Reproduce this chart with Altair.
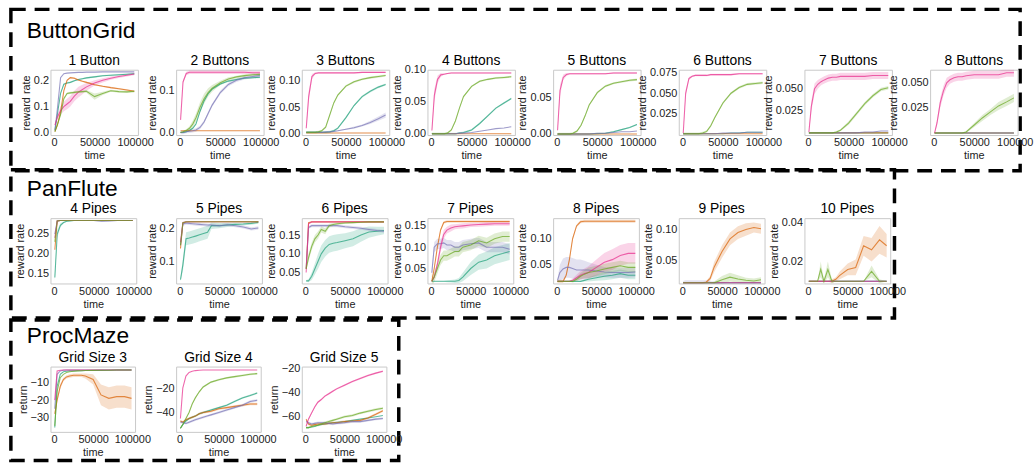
import altair as alt
import pandas as pd

FONT = "Liberation Sans"
X = [1000, 4000, 8000, 12000, 16000, 20000, 25000, 30000, 35000, 40000, 50000, 60000, 70000, 80000, 90000, 99000]
X_DOMAIN = [-4500, 103500]
X_TICKS = [0, 50000, 100000]
SERIES = ["teal", "orange", "purple", "pink", "green"]
COLORS = ["#1b9e77", "#d95f02", "#7570b3", "#e7298a", "#66a61e"]

# ---------------- ButtonGrid ----------------
B1 = {
    "teal":   [0.01, 0.07, 0.15, 0.185, 0.19, 0.192, 0.198, 0.203, 0.206, 0.209, 0.213, 0.217, 0.219, 0.221, 0.223, 0.225],
    "orange": [0.005, 0.03, 0.08, 0.16, 0.2, 0.21, 0.208, 0.201, 0.196, 0.192, 0.183, 0.177, 0.172, 0.168, 0.163, 0.158],
    "purple": [0.01, 0.09, 0.21, 0.225, 0.227, 0.228, 0.229, 0.23, 0.23, 0.231, 0.231, 0.232, 0.232, 0.232, 0.232, 0.232],
    "pink":   [0.03, 0.06, 0.085, 0.1, 0.11, 0.12, 0.14, 0.155, 0.165, 0.175, 0.19, 0.2, 0.208, 0.214, 0.219, 0.224],
    "green":  [0.005, 0.03, 0.07, 0.13, 0.15, 0.152, 0.154, 0.156, 0.157, 0.158, 0.138, 0.15, 0.16, 0.157, 0.156, 0.158],
}
B1_BAND = {
    "pink":  [0.005, 0.01, 0.015, 0.018, 0.02, 0.02, 0.02, 0.02, 0.018, 0.015, 0.01, 0.008, 0.006, 0.005, 0.005, 0.005],
    "green": [0.003, 0.003, 0.005, 0.005, 0.004, 0.004, 0.004, 0.004, 0.004, 0.005, 0.012, 0.006, 0.004, 0.004, 0.004, 0.004],
    "orange": 0.003, "teal": 0.003,
}
B2 = {
    "teal":   [0.0, 0.0, 0.002, 0.005, 0.01, 0.02, 0.05, 0.075, 0.092, 0.103, 0.115, 0.122, 0.126, 0.129, 0.13, 0.131],
    "orange": [0.004, 0.004, 0.004, 0.004, 0.004, 0.004, 0.004, 0.004, 0.004, 0.004, 0.004, 0.004, 0.004, 0.004, 0.004, 0.004],
    "purple": [0.0, 0.0, 0.002, 0.003, 0.004, 0.006, 0.012, 0.025, 0.045, 0.065, 0.095, 0.114, 0.124, 0.13, 0.133, 0.135],
    "pink":   [0.03, 0.12, 0.14, 0.143, 0.143, 0.143, 0.143, 0.143, 0.143, 0.143, 0.143, 0.143, 0.143, 0.143, 0.142, 0.142],
    "green":  [0.0, 0.002, 0.005, 0.01, 0.02, 0.035, 0.06, 0.08, 0.095, 0.105, 0.118, 0.127, 0.132, 0.135, 0.137, 0.138],
}
B2_BAND = {
    "green": [0.001, 0.002, 0.003, 0.005, 0.008, 0.01, 0.012, 0.012, 0.01, 0.008, 0.005, 0.004, 0.003, 0.003, 0.003, 0.003],
    "purple": 0.004, "pink": 0.004, "teal": 0.002,
}
B3 = {
    "teal":   [0.002, 0.002, 0.002, 0.002, 0.002, 0.002, 0.002, 0.003, 0.005, 0.01, 0.03, 0.053, 0.07, 0.08, 0.088, 0.093],
    "orange": [0.001, 0.001, 0.001, 0.001, 0.001, 0.001, 0.001, 0.001, 0.001, 0.001, 0.001, 0.001, 0.001, 0.001, 0.001, 0.001],
    "purple": [0.002, 0.002, 0.002, 0.002, 0.002, 0.002, 0.003, 0.003, 0.004, 0.005, 0.008, 0.011, 0.015, 0.021, 0.028, 0.035],
    "pink":   [0.01, 0.07, 0.108, 0.114, 0.115, 0.115, 0.115, 0.115, 0.115, 0.115, 0.115, 0.115, 0.116, 0.116, 0.116, 0.116],
    "green":  [0.002, 0.002, 0.002, 0.002, 0.003, 0.005, 0.012, 0.035, 0.058, 0.073, 0.09, 0.098, 0.103, 0.106, 0.108, 0.11],
}
B3_BAND = {
    "pink":   [0.003, 0.01, 0.005, 0.002, 0.001, 0.001, 0.001, 0.001, 0.001, 0.001, 0.001, 0.001, 0.001, 0.001, 0.001, 0.001],
    "purple": [0.0, 0.0, 0.0, 0.0, 0.0, 0.0, 0.0, 0.0, 0.001, 0.001, 0.001, 0.002, 0.002, 0.003, 0.004, 0.005],
    "green": 0.002, "teal": 0.002,
}
B4 = {
    "teal":   [0.0, 0.0, 0.0, 0.0, 0.0, 0.0, 0.0, 0.0, 0.001, 0.002, 0.006, 0.016, 0.028, 0.04, 0.048, 0.055],
    "orange": [0.0, 0.0, 0.0, 0.0, 0.0, 0.0, 0.0, 0.0, 0.0, 0.0, 0.0, 0.0, 0.0, 0.0, 0.0, 0.0],
    "purple": [0.0, 0.0, 0.0, 0.0, 0.0, 0.0, 0.0, 0.0, 0.001, 0.001, 0.002, 0.004, 0.006, 0.008, 0.009, 0.011],
    "pink":   [0.005, 0.06, 0.085, 0.092, 0.093, 0.094, 0.095, 0.095, 0.095, 0.095, 0.095, 0.095, 0.095, 0.095, 0.095, 0.095],
    "green":  [0.0, 0.0, 0.0, 0.0, 0.0, 0.001, 0.006, 0.02, 0.04, 0.058, 0.074, 0.082, 0.085, 0.087, 0.088, 0.089],
}
B4_BAND = {"pink": [0.002, 0.01, 0.006, 0.003, 0.001, 0.001, 0.001, 0.001, 0.001, 0.001, 0.001, 0.001, 0.001, 0.001, 0.001, 0.001],
           "green": 0.0015, "teal": 0.0015}
B5 = {
    "teal":   [0.0, 0.0, 0.0, 0.0, 0.0, 0.0, 0.0, 0.0, 0.0, 0.0, 0.0005, 0.001, 0.003, 0.006, 0.009, 0.013],
    "orange": [0.0, 0.0, 0.0, 0.0, 0.0, 0.0, 0.0, 0.0, 0.0, 0.0, 0.0, 0.0, 0.0, 0.0, 0.0, 0.0],
    "purple": [0.0, 0.0, 0.0, 0.0, 0.0, 0.0, 0.0, 0.0, 0.0, 0.0, 0.001, 0.001, 0.002, 0.003, 0.003, 0.004],
    "pink":   [0.005, 0.06, 0.078, 0.082, 0.083, 0.083, 0.083, 0.083, 0.083, 0.083, 0.083, 0.083, 0.084, 0.084, 0.084, 0.084],
    "green":  [0.0, 0.0, 0.0, 0.0, 0.0, 0.001, 0.004, 0.012, 0.025, 0.04, 0.057, 0.066, 0.07, 0.072, 0.074, 0.075],
}
B5_BAND = {"pink": [0.002, 0.008, 0.004, 0.002, 0.001, 0.001, 0.001, 0.001, 0.001, 0.001, 0.001, 0.001, 0.001, 0.001, 0.001, 0.001],
           "green": 0.0015, "teal": 0.001}
B6 = {
    "teal":   [0.0, 0.0, 0.0, 0.0, 0.0, 0.0, 0.0, 0.0, 0.0, 0.0, 0.0, 0.001, 0.001, 0.002, 0.002, 0.002],
    "orange": [0.0, 0.0, 0.0, 0.0, 0.0, 0.0, 0.0, 0.0, 0.0, 0.0, 0.0, 0.0, 0.0, 0.0, 0.0, 0.0],
    "purple": [0.0, 0.0, 0.0, 0.0, 0.0, 0.0, 0.0, 0.0, 0.0, 0.0, 0.001, 0.001, 0.001, 0.002, 0.002, 0.002],
    "pink":   [0.001, 0.05, 0.068, 0.071, 0.072, 0.072, 0.072, 0.072, 0.073, 0.073, 0.073, 0.073, 0.074, 0.074, 0.074, 0.074],
    "green":  [0.0, 0.0, 0.0, 0.0, 0.0, 0.0, 0.001, 0.003, 0.01, 0.02, 0.038, 0.05, 0.057, 0.061, 0.062, 0.063],
}
B6_BAND = {"pink": [0.001, 0.004, 0.002, 0.001, 0.001, 0.001, 0.001, 0.001, 0.001, 0.001, 0.001, 0.001, 0.001, 0.001, 0.001, 0.001],
           "green": 0.0015}
B7 = {
    "teal":   [0.0, 0.0, 0.0, 0.0, 0.0, 0.0, 0.0, 0.0, 0.0, 0.0, 0.0, 0.0, 0.0, 0.0, 0.0, 0.0],
    "orange": [0.0, 0.0, 0.0, 0.0, 0.0, 0.0, 0.0, 0.0, 0.0, 0.0, 0.0, 0.0, 0.0, 0.0, 0.0, 0.0],
    "purple": [0.0, 0.0, 0.0, 0.0, 0.0, 0.0, 0.0, 0.0, 0.0, 0.0, 0.0, 0.0, 0.001, 0.001, 0.002, 0.002],
    "pink":   [0.001, 0.03, 0.05, 0.055, 0.058, 0.06, 0.062, 0.063, 0.063, 0.064, 0.064, 0.064, 0.064, 0.065, 0.065, 0.065],
    "green":  [0.0, 0.0, 0.0, 0.0, 0.0, 0.0, 0.0, 0.0, 0.001, 0.003, 0.011, 0.022, 0.033, 0.042, 0.049, 0.051],
}
B7_BAND = {"pink": [0.001, 0.006, 0.006, 0.005, 0.004, 0.004, 0.004, 0.004, 0.004, 0.004, 0.004, 0.004, 0.004, 0.004, 0.004, 0.004],
           "green": [0.0, 0.0, 0.0, 0.0, 0.0, 0.0, 0.0, 0.0, 0.001, 0.001, 0.002, 0.002, 0.002, 0.002, 0.002, 0.002]}
B8 = {
    "teal":   [0.0, 0.0, 0.0, 0.0, 0.0, 0.0, 0.0, 0.0, 0.0, 0.0, 0.0, 0.0, 0.0, 0.0, 0.0, 0.0],
    "orange": [0.0, 0.0, 0.0, 0.0, 0.0, 0.0, 0.0, 0.0, 0.0, 0.0, 0.0, 0.0, 0.0, 0.0, 0.0, 0.0],
    "purple": [0.0, 0.0, 0.0, 0.0, 0.0, 0.0, 0.0, 0.0, 0.0, 0.0, 0.0, 0.0, 0.0, 0.0, 0.0, 0.0],
    "pink":   [0.0, 0.01, 0.03, 0.042, 0.05, 0.053, 0.055, 0.056, 0.056, 0.057, 0.058, 0.058, 0.058, 0.058, 0.06, 0.06],
    "green":  [0.0, 0.0, 0.0, 0.0, 0.0, 0.0, 0.0, 0.0, 0.0, 0.001, 0.008, 0.015, 0.021, 0.027, 0.031, 0.035],
}
B8_BAND = {"pink": [0.0, 0.003, 0.005, 0.005, 0.005, 0.004, 0.004, 0.004, 0.004, 0.004, 0.004, 0.004, 0.004, 0.004, 0.004, 0.004],
           "green": [0.0, 0.0, 0.0, 0.0, 0.0, 0.0, 0.0, 0.0, 0.0, 0.001, 0.002, 0.003, 0.003, 0.004, 0.004, 0.004]}

BG_TITLES = ["1 Button", "2 Buttons", "3 Buttons", "4 Buttons", "5 Buttons", "6 Buttons", "7 Buttons", "8 Buttons"]
BG_LINES = [B1, B2, B3, B4, B5, B6, B7, B8]
BG_BANDS = [B1_BAND, B2_BAND, B3_BAND, B4_BAND, B5_BAND, B6_BAND, B7_BAND, B8_BAND]
BG_DOMAINS = [[-0.008, 0.24], [-0.006, 0.149], [-0.003, 0.121], [-0.002, 0.1],
              [-0.0015, 0.0886], [-0.0015, 0.079], [-0.0025, 0.0715], [-0.002, 0.063]]
BG_TICKS = [[0.0, 0.1, 0.2], [0.0, 0.1], [0.0, 0.05, 0.1], [0.0, 0.05, 0.1],
            [0.0, 0.05], [0.025, 0.05, 0.075], [0.025, 0.05], [0.025, 0.05]]
BG_FORMATS = [".1f", ".1f", ".2f", ".2f", ".2f", ".3f", ".3f", ".3f"]

# ---------------- PanFlute ----------------
P4 = {
    "teal":   [0.14, 0.25, 0.272, 0.279, 0.282, 0.283, 0.284, 0.284, 0.284, 0.284, 0.284, 0.284, 0.284, 0.284, 0.284, 0.284],
    "orange": [0.21, 0.283, 0.284, 0.284, 0.284, 0.284, 0.284, 0.284, 0.284, 0.284, 0.284, 0.284, 0.284, 0.284, 0.284, 0.284],
    "purple": [0.25, 0.283, 0.284, 0.284, 0.284, 0.284, 0.284, 0.284, 0.284, 0.284, 0.284, 0.282, 0.283, 0.284, 0.284, 0.284],
    "pink":   [0.24, 0.283, 0.284, 0.284, 0.284, 0.284, 0.284, 0.284, 0.284, 0.284, 0.284, 0.284, 0.284, 0.284, 0.284, 0.284],
    "green":  [0.23, 0.283, 0.284, 0.284, 0.284, 0.284, 0.284, 0.284, 0.284, 0.284, 0.284, 0.284, 0.284, 0.284, 0.284, 0.284],
}
P4_BAND = {"teal": [0.01, 0.01, 0.005, 0.002, 0.001, 0.001, 0.001, 0.001, 0.001, 0.001, 0.001, 0.001, 0.001, 0.001, 0.001, 0.001],
           "purple": 0.001}
P5 = {
    "teal":   [0.045, 0.09, 0.17, 0.172, 0.175, 0.178, 0.182, 0.186, 0.19, 0.21, 0.21, 0.212, 0.214, 0.215, 0.217, 0.22],
    "orange": [0.14, 0.218, 0.221, 0.222, 0.222, 0.222, 0.222, 0.222, 0.222, 0.222, 0.222, 0.222, 0.222, 0.222, 0.222, 0.222],
    "purple": [0.15, 0.215, 0.218, 0.217, 0.216, 0.215, 0.214, 0.213, 0.212, 0.212, 0.21, 0.213, 0.21, 0.206, 0.2, 0.203],
    "pink":   [0.16, 0.22, 0.222, 0.222, 0.222, 0.222, 0.222, 0.222, 0.222, 0.222, 0.222, 0.222, 0.222, 0.222, 0.222, 0.222],
    "green":  [0.15, 0.219, 0.222, 0.222, 0.222, 0.222, 0.222, 0.222, 0.222, 0.222, 0.222, 0.222, 0.222, 0.222, 0.222, 0.222],
}
P5_BAND = {"teal": [0.005, 0.02, 0.02, 0.02, 0.02, 0.02, 0.02, 0.02, 0.02, 0.01, 0.008, 0.006, 0.005, 0.004, 0.004, 0.004],
           "purple": 0.005}
P6 = {
    "teal":   [0.028, 0.028, 0.04, 0.06, 0.08, 0.1, 0.115, 0.125, 0.128, 0.13, 0.135, 0.14, 0.15, 0.158, 0.16, 0.162],
    "orange": [0.06, 0.183, 0.185, 0.185, 0.185, 0.185, 0.185, 0.185, 0.185, 0.185, 0.185, 0.185, 0.185, 0.185, 0.185, 0.185],
    "purple": [0.06, 0.17, 0.175, 0.175, 0.175, 0.175, 0.175, 0.175, 0.175, 0.175, 0.172, 0.17, 0.168, 0.165, 0.162, 0.16],
    "pink":   [0.05, 0.18, 0.185, 0.185, 0.185, 0.185, 0.185, 0.185, 0.185, 0.185, 0.185, 0.185, 0.185, 0.185, 0.185, 0.185],
    "green":  [0.06, 0.09, 0.12, 0.14, 0.15, 0.165, 0.16, 0.175, 0.178, 0.18, 0.182, 0.183, 0.184, 0.185, 0.185, 0.185],
}
P6_BAND = {"teal": [0.002, 0.004, 0.01, 0.015, 0.02, 0.022, 0.022, 0.022, 0.022, 0.022, 0.02, 0.02, 0.018, 0.015, 0.012, 0.01],
           "green": [0.005, 0.01, 0.01, 0.01, 0.01, 0.008, 0.008, 0.005, 0.004, 0.003, 0.002, 0.002, 0.002, 0.002, 0.002, 0.002],
           "purple": 0.004}
P7 = {
    "teal":   [0.02, 0.02, 0.02, 0.02, 0.02, 0.02, 0.02, 0.02, 0.022, 0.03, 0.05, 0.065, 0.07, 0.08, 0.085, 0.09],
    "orange": [0.02, 0.05, 0.1, 0.14, 0.158, 0.16, 0.16, 0.16, 0.16, 0.16, 0.16, 0.16, 0.16, 0.16, 0.16, 0.16],
    "purple": [0.04, 0.1, 0.108, 0.108, 0.11, 0.105, 0.105, 0.1, 0.1, 0.105, 0.108, 0.11, 0.1, 0.1, 0.1, 0.095],
    "pink":   [0.02, 0.03, 0.06, 0.1, 0.13, 0.14, 0.145, 0.148, 0.149, 0.15, 0.152, 0.153, 0.154, 0.155, 0.155, 0.155],
    "green":  [0.02, 0.03, 0.05, 0.07, 0.08, 0.08, 0.085, 0.09, 0.09, 0.1, 0.105, 0.115, 0.11, 0.12, 0.125, 0.125],
}
P7_BAND = {"teal": [0.001, 0.001, 0.001, 0.001, 0.001, 0.002, 0.003, 0.004, 0.006, 0.01, 0.015, 0.018, 0.02, 0.02, 0.02, 0.02],
           "purple": 0.012,
           "pink": [0.002, 0.005, 0.01, 0.012, 0.01, 0.008, 0.008, 0.006, 0.006, 0.006, 0.005, 0.005, 0.005, 0.005, 0.005, 0.005],
           "green": 0.012, "orange": 0.003}
P8 = {
    "teal":   [0.018, 0.018, 0.018, 0.018, 0.018, 0.018, 0.018, 0.018, 0.02, 0.022, 0.025, 0.028, 0.03, 0.033, 0.03, 0.03],
    "orange": [0.018, 0.018, 0.018, 0.03, 0.06, 0.1, 0.125, 0.133, 0.134, 0.134, 0.134, 0.134, 0.134, 0.134, 0.134, 0.134],
    "purple": [0.02, 0.035, 0.042, 0.045, 0.045, 0.043, 0.04, 0.04, 0.04, 0.04, 0.038, 0.036, 0.035, 0.035, 0.035, 0.036],
    "pink":   [0.018, 0.018, 0.018, 0.018, 0.018, 0.02, 0.025, 0.03, 0.033, 0.035, 0.045, 0.055, 0.06, 0.068, 0.072, 0.072],
    "green":  [0.018, 0.018, 0.018, 0.018, 0.018, 0.018, 0.022, 0.028, 0.032, 0.035, 0.038, 0.042, 0.045, 0.048, 0.045, 0.045],
}
P8_BAND = {"teal": [0.0, 0.0, 0.0, 0.0, 0.0, 0.0, 0.0, 0.001, 0.002, 0.004, 0.006, 0.008, 0.008, 0.008, 0.008, 0.008],
           "orange": 0.003,
           "purple": [0.003, 0.015, 0.02, 0.02, 0.02, 0.02, 0.02, 0.02, 0.018, 0.015, 0.012, 0.01, 0.01, 0.01, 0.01, 0.01],
           "pink": [0.0, 0.0, 0.0, 0.0, 0.001, 0.003, 0.006, 0.008, 0.01, 0.012, 0.015, 0.018, 0.02, 0.02, 0.02, 0.02],
           "green": [0.0, 0.0, 0.0, 0.0, 0.0, 0.002, 0.004, 0.006, 0.008, 0.01, 0.01, 0.01, 0.01, 0.01, 0.01, 0.01]}
P9 = {
    "teal":   [0.015, 0.015, 0.015, 0.015, 0.015, 0.015, 0.015, 0.015, 0.015, 0.015, 0.015, 0.015, 0.015, 0.015, 0.015, 0.015],
    "orange": [0.015, 0.015, 0.015, 0.015, 0.015, 0.015, 0.015, 0.016, 0.022, 0.04, 0.065, 0.085, 0.095, 0.1, 0.103, 0.101],
    "purple": [0.015, 0.015, 0.015, 0.015, 0.015, 0.015, 0.015, 0.015, 0.015, 0.015, 0.015, 0.015, 0.015, 0.015, 0.015, 0.015],
    "pink":   [0.015, 0.015, 0.015, 0.015, 0.015, 0.015, 0.015, 0.015, 0.015, 0.015, 0.015, 0.015, 0.015, 0.015, 0.015, 0.015],
    "green":  [0.015, 0.015, 0.015, 0.015, 0.015, 0.015, 0.015, 0.015, 0.015, 0.015, 0.02, 0.024, 0.021, 0.019, 0.018, 0.02],
}
P9_BAND = {"orange": [0.0, 0.0, 0.0, 0.0, 0.0, 0.0, 0.001, 0.002, 0.004, 0.008, 0.01, 0.01, 0.01, 0.01, 0.008, 0.008],
           "purple": [0.003, 0.004, 0.004, 0.004, 0.004, 0.004, 0.004, 0.004, 0.003, 0.002, 0.001, 0.0, 0.0, 0.0, 0.0, 0.0],
           "green": [0.0, 0.0, 0.0, 0.0, 0.0, 0.0, 0.0, 0.0, 0.0, 0.002, 0.006, 0.007, 0.006, 0.004, 0.004, 0.004]}
P10 = {
    "teal":   [0.01, 0.01, 0.01, 0.01, 0.01, 0.01, 0.01, 0.01, 0.01, 0.01, 0.01, 0.01, 0.01, 0.01, 0.01, 0.01],
    "orange": [0.01, 0.01, 0.01, 0.01, 0.01, 0.01, 0.01, 0.01, 0.011, 0.013, 0.016, 0.017, 0.028, 0.026, 0.031, 0.028],
    "purple": [0.01, 0.01, 0.01, 0.01, 0.01, 0.01, 0.01, 0.01, 0.01, 0.01, 0.01, 0.01, 0.01, 0.01, 0.01, 0.01],
    "pink":   [0.01, 0.01, 0.01, 0.01, 0.01, 0.01, 0.01, 0.01, 0.01, 0.01, 0.01, 0.01, 0.01, 0.01, 0.01, 0.01],
    "green":  [0.01, 0.01, 0.01, 0.01, 0.016, 0.01, 0.016, 0.01, 0.01, 0.01, 0.01, 0.01, 0.01, 0.015, 0.01, 0.01],
}
P10_BAND = {"orange": [0.0, 0.0, 0.0, 0.0, 0.0, 0.0, 0.0, 0.001, 0.001, 0.002, 0.003, 0.004, 0.005, 0.006, 0.007, 0.006],
            "green": [0.0, 0.0, 0.0, 0.0, 0.004, 0.001, 0.004, 0.001, 0.0, 0.0, 0.0, 0.0, 0.0, 0.003, 0.001, 0.0]}

PF_TITLES = ["4 Pipes", "5 Pipes", "6 Pipes", "7 Pipes", "8 Pipes", "9 Pipes", "10 Pipes"]
PF_LINES = [P4, P5, P6, P7, P8, P9, P10]
PF_BANDS = [P4_BAND, P5_BAND, P6_BAND, P7_BAND, P8_BAND, P9_BAND, P10_BAND]
PF_DOMAINS = [[0.125, 0.29], [0.033, 0.233], [0.021, 0.195], [0.015, 0.168], [0.014, 0.14], [0.014, 0.118], [0.0089, 0.042]]
PF_TICKS = [[0.15, 0.2, 0.25], [0.1, 0.2], [0.05, 0.1, 0.15], [0.05, 0.1, 0.15], [0.05, 0.1], [0.05, 0.1], [0.02, 0.04]]
PF_FORMATS = [".2f", ".1f", ".2f", ".2f", ".2f", ".2f", ".2f"]

# ---------------- ProcMaze ----------------
G3 = {
    "teal":   [-36, -12, -5, -3.5, -3.2, -3, -3, -2.9, -2.9, -2.8, -2.8, -2.7, -2.6, -2.5, -2.5, -2.5],
    "orange": [-28, -20, -12, -8, -6.5, -6, -5.5, -5.5, -5.5, -6, -8, -17, -19, -18, -18, -19],
    "purple": [-25, -5, -3, -2.6, -2.5, -2.5, -2.5, -2.5, -2.5, -2.5, -2.5, -2.5, -2.5, -2.5, -2.5, -2.5],
    "pink":   [-20, -3, -2.6, -2.5, -2.5, -2.5, -2.5, -2.5, -2.5, -2.5, -2.5, -2.5, -2.5, -2.5, -2.5, -2.5],
    "green":  [-35, -15, -7, -5, -4, -3.5, -3.2, -3, -2.9, -2.8, -2.7, -2.6, -2.6, -2.5, -2.5, -2.5],
}
G3_BAND = {"orange": [1, 1.5, 1.5, 1, 1, 1, 1, 1, 1, 1.5, 3, 6, 6.5, 6.5, 6.5, 6.5]}
G4 = {
    "teal":   [-53, -50, -47, -45, -44, -43, -41, -40, -39, -38, -36, -34, -31, -28, -26, -24],
    "orange": [-47, -48, -46, -45, -44, -43, -41, -40, -39.5, -39, -37, -36, -35, -34, -33, -33],
    "purple": [-48, -48, -49, -48, -47, -46, -45, -44, -43, -42, -40, -38, -36, -34, -31, -30],
    "pink":   [-45, -20, -10, -7, -6, -5.5, -5.2, -5, -5, -5, -5, -5, -5, -5, -5, -5],
    "green":  [-53, -50, -45, -40, -33, -28, -23, -19, -17, -15, -13, -11.5, -10.5, -9.5, -8.5, -8],
}
G4_BAND = {"orange": 1.0, "purple": 1.0, "teal": 0.8, "green": 0.8}
G5 = {
    "teal":   [-69, -69, -68.5, -68, -67, -66.5, -66, -65.5, -65, -64.5, -64, -63, -62, -61, -60, -59],
    "orange": [-62, -66, -67, -66.5, -66, -66, -66, -65.5, -65, -65, -64, -63.5, -63, -61, -58, -55],
    "purple": [-64, -65, -66, -65.5, -65, -65, -65, -65.5, -66, -65.5, -65, -64, -64, -63, -62, -61.5],
    "pink":   [-68, -62, -57, -52, -48, -46, -43, -41, -39, -37, -34, -31, -28.5, -26, -24, -22.5],
    "green":  [-69, -69, -68, -67.5, -67, -66, -65, -64, -63, -62, -60, -59, -57, -55.5, -54, -53],
}
G5_BAND = {"orange": 1.0, "purple": 1.0, "green": 1.0, "pink": 0.8}

PM_TITLES = ["Grid Size 3", "Grid Size 4", "Grid Size 5"]
PM_LINES = [G3, G4, G5]
PM_BANDS = [G3_BAND, G4_BAND, G5_BAND]
PM_DOMAINS = [[-38.5, -0.5], [-56, -2.2], [-72.5, -18.6]]
PM_TICKS = [[-30, -20, -10], [-40, -20], [-60, -40, -20]]
PM_FORMATS = ["d", "d", "d"]


def make_panel(title, lines, bands, dom, ticks, fmt, ytitle, width, height, deco=None):
    rows = []
    for s in SERIES:
        ys = lines[s]
        b = bands.get(s, 0.0)
        ws = b if isinstance(b, list) else [b] * len(X)
        for x, y, w in zip(X, ys, ws):
            rows.append({"x": x, "y": y, "lo": y - w, "hi": y + w, "s": s, "band": s in bands})
    df = pd.DataFrame(rows)
    xs = alt.Scale(domain=X_DOMAIN, nice=False, zero=False)
    ysc = alt.Scale(domain=dom, nice=False, zero=False)
    xax = alt.Axis(values=X_TICKS, format="d", title="time")
    yax = alt.Axis(values=ticks, format=fmt, title=ytitle)
    col = alt.Color("s:N", scale=alt.Scale(domain=SERIES, range=COLORS), legend=None)
    base = alt.Chart(df)
    area = base.transform_filter("datum.band").mark_area(opacity=0.2, clip=True).encode(
        x=alt.X("x:Q", scale=xs, axis=xax),
        y=alt.Y("lo:Q", scale=ysc, axis=yax),
        y2="hi:Q",
        color=col,
    )
    line = base.mark_line(clip=True, strokeWidth=1.1, opacity=0.7).encode(
        x=alt.X("x:Q", scale=xs, axis=xax),
        y=alt.Y("y:Q", scale=ysc, axis=yax),
        color=col,
    )
    ttl = alt.Chart(pd.DataFrame({"t": [title]})).mark_text(
        align="center", baseline="alphabetic", fontSize=14, font=FONT, color="black"
    ).encode(text="t:N", x=alt.value(width / 2), y=alt.value(-5))
    layers = [area, line, ttl]
    if deco:
        layers += deco
    return alt.layer(*layers).properties(width=width, height=height)


def make_deco(label, x1, x2, y1, y2, tx, ty):
    d = alt.Chart(pd.DataFrame({"t": [label]}))
    box = d.mark_rect(fillOpacity=0, stroke="black", strokeWidth=3.5, strokeDash=[15, 9]).encode(
        x=alt.value(x1), x2=alt.value(x2), y=alt.value(y1), y2=alt.value(y2))
    txt = d.mark_text(align="left", baseline="alphabetic", fontSize=23, font=FONT, color="black").encode(
        text="t:N", x=alt.value(tx), y=alt.value(ty))
    return [box, txt]


def make_row(titles, lines, bands, domains, ticks, formats, ytitle, width, deco):
    panels = []
    for i in range(len(titles)):
        panels.append(make_panel(titles[i], lines[i], bands[i], domains[i], ticks[i], formats[i],
                                 ytitle, width, 66, deco if i == 0 else None))
    return panels


row1 = make_row(BG_TITLES, BG_LINES, BG_BANDS, BG_DOMAINS, BG_TICKS, BG_FORMATS, "reward rate", 88.4,
                make_deco("ButtonGrid", -40, 980, -61, 102, -24, -32))
row2 = make_row(PF_TITLES, PF_LINES, PF_BANDS, PF_DOMAINS, PF_TICKS, PF_FORMATS, "reward rate", 86.7,
                make_deco("PanFlute", -40, 853, -49, 101, -24, -22))
row3 = make_row(PM_TITLES, PM_LINES, PM_BANDS, PM_DOMAINS, PM_TICKS, PM_FORMATS, "return", 85.5,
                make_deco("ProcMaze", -40, 352, -47, 95, -24, -24))

blank = alt.Chart(pd.DataFrame({"a": [0]})).mark_point(opacity=0).encode(
    x=alt.value(0), y=alt.value(0)
).properties(width=1, height=1, view=alt.ViewBackground(strokeOpacity=0))

cells = row1 + row2 + [blank] + row3

chart = alt.concat(
    *cells, columns=8, spacing={"row": 84, "column": 38}, bounds="flush", align="none"
).properties(
    padding={"left": 8, "top": 4, "right": 0, "bottom": 0},
    background="white",
).configure(font=FONT).configure_view(
    stroke="#c8c8c8", strokeWidth=1
).configure_axis(
    labelFont=FONT, labelFontSize=11, labelColor="#222222",
    titleFont=FONT, titleFontSize=11, titleFontWeight="normal", titleColor="#222222",
    ticks=False, domain=False, grid=False, labelPadding=2, titlePadding=2,
    labelFlush=False, labelOverlap=False,
)

chart.save("out.html", embed_options={"renderer": "svg", "actions": False})
